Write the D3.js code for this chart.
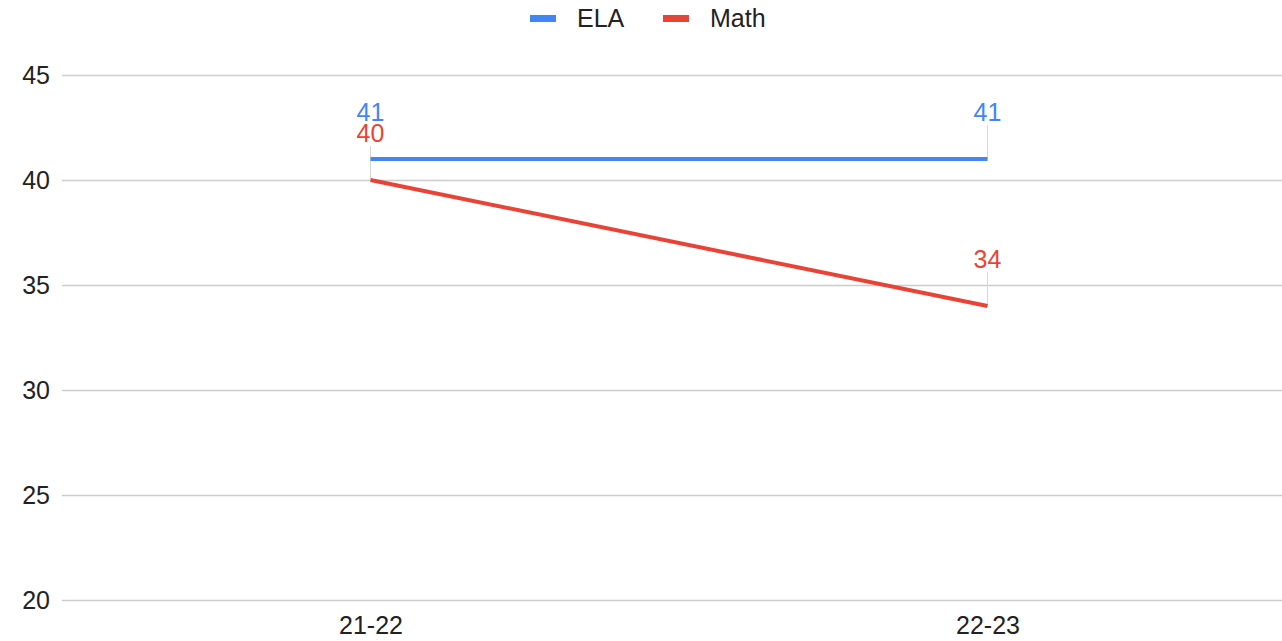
<!DOCTYPE html>
<html>
<head>
<meta charset="utf-8">
<script src="https://cdn.jsdelivr.net/npm/d3@7"></script>
<style>
  html, body { margin: 0; padding: 0; background: #fff; }
  svg { display: block; font-family: "Liberation Sans", Arial, sans-serif; }
</style>
</head>
<body>
<svg id="chart" width="1282" height="641"></svg>
<script>
// School years on the x axis
const years = ["21-22", "22-23"];
// Proficiency per subject
const elaValues = [41, 41];
const mathValues = [40, 34];
const seriesNames = ["ELA", "Math"];
const seriesColors = ["#4285F4", "#EA4335"];
const yTicks = [20, 25, 30, 35, 40, 45];

const FONT = "'Liberation Sans', Arial, sans-serif";
const svg = d3.select("#chart");
const width = 1282, height = 641;
const margin = { left: 62, right: -14, top: 75, bottom: 41 };

const x = d3.scalePoint()
  .domain(years)
  .range([margin.left, width - margin.right])
  .padding(0.5);

const y = d3.scaleLinear()
  .domain([20, 45])
  .range([height - margin.bottom, margin.top]);

// Horizontal gridlines
const grid = svg.append("g")
  .attr("transform", `translate(${margin.left},0)`)
  .call(d3.axisLeft(y).tickValues(yTicks).tickSize(-(width - margin.left)).tickFormat(""));
grid.select(".domain").remove();
grid.selectAll(".tick line").attr("stroke", "#cccccc").attr("stroke-width", 1.5);

// Y tick labels
const yAxis = svg.append("g")
  .attr("transform", `translate(50,0)`)
  .call(d3.axisLeft(y).tickValues(yTicks).tickSize(0).tickPadding(0));
yAxis.select(".domain").remove();
yAxis.selectAll("text")
  .attr("font-size", 25).attr("fill", "#222").attr("font-family", FONT);

// X tick labels
const xAxis = svg.append("g")
  .attr("transform", `translate(0,${height - margin.bottom})`)
  .call(d3.axisBottom(x).tickSize(0).tickPadding(16));
xAxis.select(".domain").remove();
xAxis.selectAll("text")
  .attr("font-size", 25).attr("fill", "#222").attr("font-family", FONT);

const series = [
  { name: seriesNames[0], color: seriesColors[0], values: elaValues },
  { name: seriesNames[1], color: seriesColors[1], values: mathValues }
];

const line = d3.line()
  .x((d, i) => x(years[i]))
  .y(d => y(d));

// Leader lines from data labels down to points
series.forEach(s => {
  s.values.forEach((v, i) => {
    svg.append("line")
      .attr("x1", x(years[i])).attr("x2", x(years[i]))
      .attr("y1", y(v))
      .attr("y2", s.name === "ELA" && i === 0 ? y(v) : y(v) - 34)
      .attr("stroke", "#d6d6d6").attr("stroke-width", 1);
  });
});

series.forEach(s => {
  svg.append("path")
    .datum(s.values)
    .attr("fill", "none")
    .attr("stroke", s.color)
    .attr("stroke-width", 4)
    .attr("d", line);
});

// Data labels
series.forEach(s => {
  s.values.forEach((v, i) => {
    svg.append("text")
      .attr("x", x(years[i]))
      .attr("y", y(v) - 38)
      .attr("text-anchor", "middle")
      .attr("font-size", 25)
      .attr("fill", s.color)
      .text(v);
  });
});

// Legend
const legend = svg.append("g");
const legendItems = [
  { name: seriesNames[0], color: seriesColors[0], x: 530 },
  { name: seriesNames[1], color: seriesColors[1], x: 663 }
];
legendItems.forEach(it => {
  legend.append("rect")
    .attr("x", it.x).attr("y", 15).attr("width", 26).attr("height", 7)
    .attr("fill", it.color);
  legend.append("text")
    .attr("x", it.x + 47).attr("y", 27)
    .attr("font-size", 25).attr("fill", "#222")
    .text(it.name);
});
</script>
</body>
</html>
